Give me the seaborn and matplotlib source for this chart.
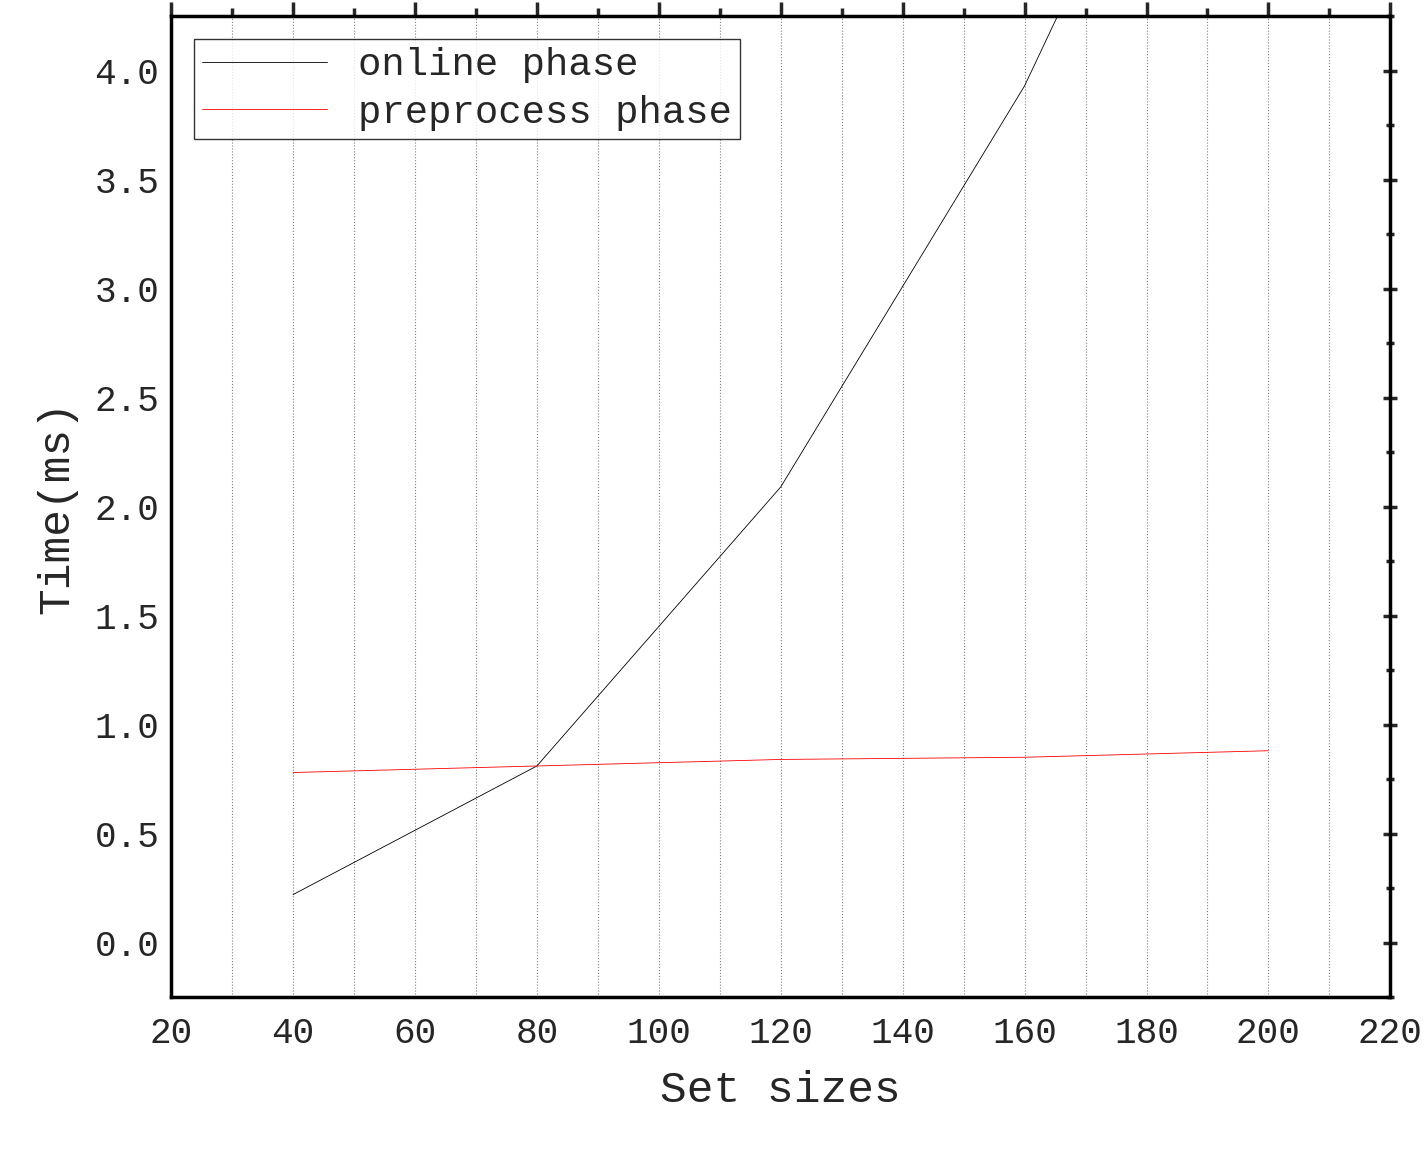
import matplotlib
matplotlib.use("Agg")
import matplotlib.pyplot as plt
import seaborn as sns
import pandas as pd
from matplotlib.ticker import MultipleLocator

set_sizes = [40, 80, 120, 160, 200]
online = [0.22, 0.81, 2.09, 3.93, 6.3]
preprocess = [0.78, 0.81, 0.84, 0.85, 0.88]

sns.set_style("white")
plt.rcParams['font.family'] = ['Liberation Mono', 'DejaVu Sans']

df = pd.DataFrame({"x": set_sizes * 2, "y": online + preprocess,
                   "s": ["online phase"] * 5 + ["preprocess phase"] * 5})

fig = plt.figure(figsize=(14.26, 11.5), dpi=100)
ax = fig.add_axes([0.12, 0.133, 0.855, 0.853])
sns.lineplot(data=df, x="x", y="y", hue="s", palette=["black", "red"], linewidth=0.6, ax=ax)

ax.set_xlim(20, 220)
ax.set_ylim(-0.25, 4.25)
ax.xaxis.set_major_locator(MultipleLocator(20))
ax.xaxis.set_minor_locator(MultipleLocator(10))
ax.yaxis.set_major_locator(MultipleLocator(0.5))
ax.yaxis.set_minor_locator(MultipleLocator(0.25))
ax.set_yticks(ax.get_yticks())
ax.set_yticklabels([f"{v:.1f}" for v in ax.get_yticks()])
ax.set_ylim(-0.25, 4.25)
ax.grid(True, which="both", axis="x", linestyle=":", color="gray", linewidth=0.8)
for s in ax.spines.values():
    s.set_linewidth(2.5)
    s.set_color("black")
ax.tick_params(which="major", direction="out", length=10, width=2.5, labelsize=26,
               top=True, right=True)
ax.tick_params(which="minor", direction="out", length=6, width=2.5, top=True, right=True)
ax.tick_params(axis="y", which="both", right=True, direction="inout")
ax.set_xlabel("Set sizes", fontsize=32, labelpad=14)
ax.set_ylabel("Time(ms)", fontsize=32, labelpad=12)
leg = ax.legend(loc="upper left", fontsize=28, frameon=True, fancybox=False,
                edgecolor="black", handlelength=3.2, title=None, borderaxespad=0.6,
                labelspacing=0.3, borderpad=0.2)
leg.get_frame().set_linewidth(1)
fig.savefig("out.png", dpi=100)
